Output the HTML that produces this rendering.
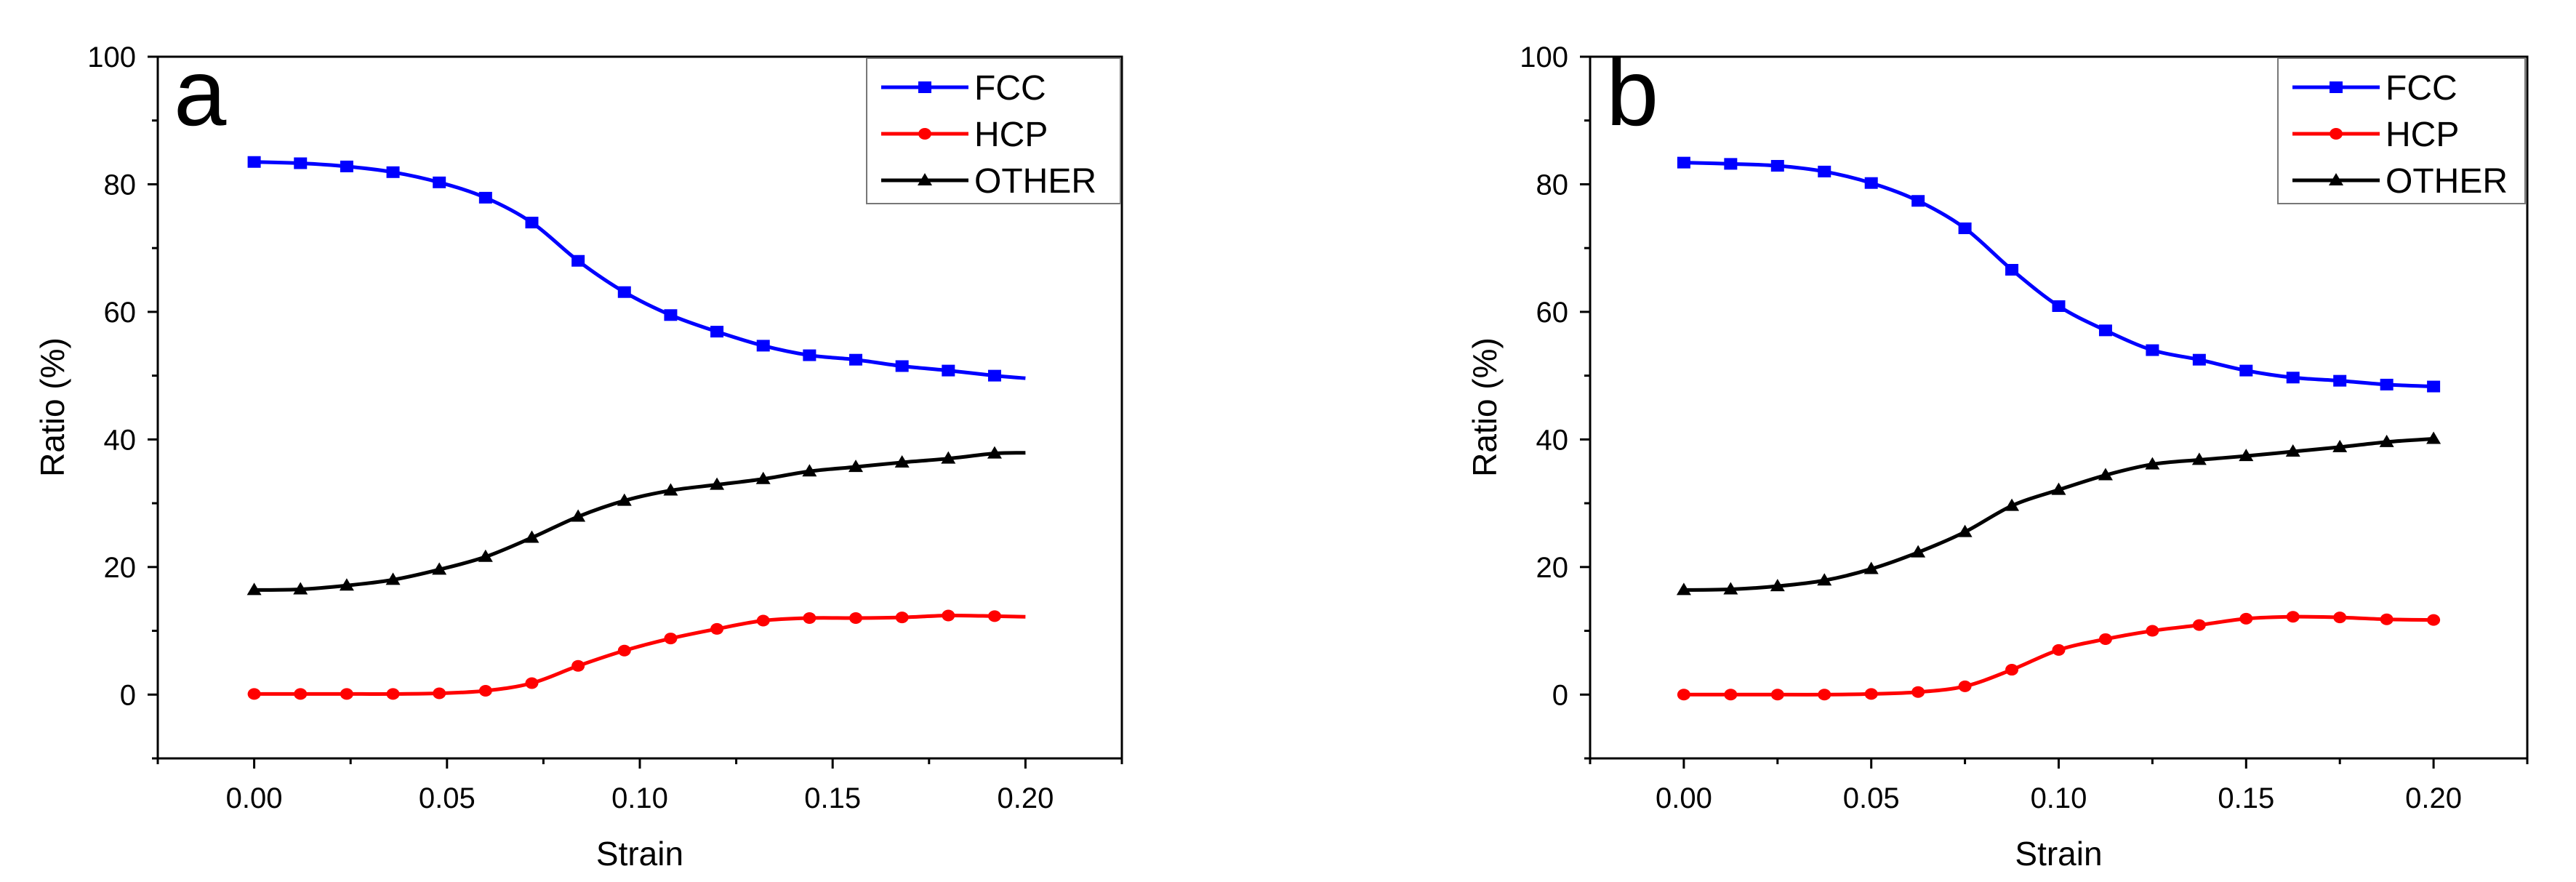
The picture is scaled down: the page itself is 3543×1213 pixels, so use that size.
<!DOCTYPE html>
<html><head><meta charset="utf-8"><style>
html,body{margin:0;padding:0;background:#fff;}
svg{display:block;font-family:"Liberation Sans",sans-serif;}
</style></head><body>
<svg id="chart" width="3543" height="1213" viewBox="0 0 3543 1213" xmlns="http://www.w3.org/2000/svg"></svg>
<script>
const strainA=[0,0.012,0.024,0.036,0.048,0.06,0.072,0.084,0.096,0.108,0.12,0.132,0.144,0.156,0.168,0.18,0.192,0.2];
const fccA=[83.5,83.3,82.8,81.9,80.3,77.9,74,68,63.1,59.5,56.9,54.7,53.2,52.5,51.5,50.8,50.0,49.6];
const hcpA=[0.1,0.1,0.1,0.1,0.2,0.6,1.8,4.5,6.9,8.8,10.3,11.6,12.0,12.0,12.1,12.4,12.3,12.2];
const otherA=[16.4,16.5,17.1,18.0,19.6,21.6,24.6,27.9,30.4,32.0,32.9,33.8,35.0,35.7,36.4,37.0,37.8,37.9];
const strainB=[0,0.0125,0.025,0.0375,0.05,0.0625,0.075,0.0875,0.1,0.1125,0.125,0.1375,0.15,0.1625,0.175,0.1875,0.2];
const fccB=[83.4,83.2,82.9,82.0,80.2,77.4,73.1,66.6,60.9,57.1,54.0,52.5,50.8,49.7,49.2,48.6,48.3];
const hcpB=[0,0,0,0,0.1,0.4,1.3,3.9,7.0,8.7,10.0,10.9,11.9,12.2,12.1,11.8,11.7];
const otherB=[16.4,16.5,17.0,17.9,19.7,22.3,25.5,29.6,32.1,34.4,36.1,36.8,37.4,38.1,38.8,39.6,40.1];
const xTicks=["0.00","0.05","0.10","0.15","0.20"];
const yTicks=["0","20","40","60","80","100"];
const legendLabels=["FCC","HCP","OTHER"];

const NS="http://www.w3.org/2000/svg";
const svg=document.getElementById('chart');
function mk(tag,attrs,parent){const e=document.createElementNS(NS,tag);for(const k in attrs)e.setAttribute(k,attrs[k]);(parent||svg).appendChild(e);return e;}

function panel(cfg){
  const g=mk('g',{});
  
  
  const X=v=>cfg.x0+(v-(-0.025))/(0.25)*(cfg.x1-cfg.x0);
  const Y=v=>cfg.yb-(v-(-10))/110*(cfg.yb-cfg.yt);
  // frame
  const fr=mk('rect',{x:cfg.x0,y:cfg.yt,width:cfg.x1-cfg.x0,height:cfg.yb-cfg.yt,fill:'none',stroke:'#000','stroke-width':3},g);
  
  
  // y ticks
  for(let v=-10;v<=100;v+=10){
    const major=v%20===0;
    mk('line',{x1:cfg.x0,x2:cfg.x0-(major?14:8),y1:Y(v),y2:Y(v),stroke:'#000','stroke-width':3},g);
  }
  yTicks.forEach(t=>{
    const tx=mk('text',{x:cfg.x0-30,y:Y(+t)+14,'text-anchor':'end','font-size':40},g);
    tx.textContent=t;
    
    
  });
  for(let i=0;i<=10;i++){
    const v=-0.025+i*0.025;const major=i%2===1;
    mk('line',{x1:X(v),x2:X(v),y1:cfg.yb,y2:cfg.yb+(major?14:8),stroke:'#000','stroke-width':3},g);
  }
  xTicks.forEach(t=>{
    const tx=mk('text',{x:X(+t),y:cfg.yb+68,'text-anchor':'middle','font-size':40},g);
    tx.textContent=t;
    
    
  });
  const xt=mk('text',{x:(X(0)+X(0.2))/2,y:1190,'text-anchor':'middle','font-size':46},g);
  xt.textContent='Strain';
  
  
  const yt=mk('text',{x:0,y:0,'text-anchor':'middle','font-size':46,transform:`translate(${cfg.ylx},560) rotate(-90)`},g);
  yt.textContent='Ratio (%)';
  
  
  const lt=mk('text',{x:cfg.x0+22,y:172,'font-size':130},g);
  lt.textContent=cfg.letter;
  
  
  const series=[{d:cfg.other,c:'#000',m:'tri',n:'other'},{d:cfg.hcp,c:'#ff0000',m:'circ',n:'hcp'},{d:cfg.fcc,c:'#0000ff',m:'sq',n:'fcc'}];
  series.forEach(s=>{
    const pts=cfg.xs.map((x,i)=>[X(x),Y(s.d[i])]);
    let d=`M${pts[0][0]},${pts[0][1]}`;
    for(let i=0;i<pts.length-1;i++){
      const p0=pts[Math.max(0,i-1)],p1=pts[i],p2=pts[i+1],p3=pts[Math.min(pts.length-1,i+2)];
      d+=` C${p1[0]+(p2[0]-p0[0])/6},${p1[1]+(p2[1]-p0[1])/6} ${p2[0]-(p3[0]-p1[0])/6},${p2[1]-(p3[1]-p1[1])/6} ${p2[0]},${p2[1]}`;
    }
    const ln=mk('path',{d:d,fill:'none',stroke:s.c,'stroke-width':5},g);
    
    
    const nm=cfg.markerCount;
    for(let i=0;i<nm;i++){
      const mkEl=marker(g,s.m,pts[i][0],pts[i][1],s.c);
      
      
    }
  });
  // legend
  const lg=mk('g',{},g);
  
  
  mk('rect',{x:cfg.lx,y:cfg.yt+2,width:cfg.lw,height:200,fill:'#fff',stroke:'#777','stroke-width':2},lg);
  const lc=['#0000ff','#ff0000','#000'],lm=['sq','circ','tri'];
  legendLabels.forEach((t,i)=>{
    const yy=cfg.yt+42+i*64;
    const e=mk('g',{},lg);
    
    
    mk('line',{x1:cfg.lx+20,x2:cfg.lx+140,y1:yy,y2:yy,stroke:lc[i],'stroke-width':5},e);
    marker(e,lm[i],cfg.lx+80,yy,lc[i]);
    const tx=mk('text',{x:cfg.lx+148,y:yy+17,'font-size':48},e);
    tx.textContent=t;
  });
}
function marker(p,type,x,y,c){
  if(type==='sq')return mk('rect',{x:x-9,y:y-8,width:18,height:16,fill:c},p);
  if(type==='circ')return mk('ellipse',{cx:x,cy:y,rx:9,ry:8,fill:c},p);
  return mk('polygon',{points:`${x},${y-10} ${x-10},${y+7} ${x+10},${y+7}`,fill:c},p);
}
panel({letter:'a',x0:217,x1:1543,yt:78,yb:1043,ylx:88,lx:1192,lw:349,xs:strainA,fcc:fccA,hcp:hcpA,other:otherA,markerCount:17});
panel({letter:'b',x0:2187,x1:3476,yt:78,yb:1043,ylx:2058,lx:3133,lw:340,xs:strainB,fcc:fccB,hcp:hcpB,other:otherB,markerCount:17});
</script>
</body></html>
